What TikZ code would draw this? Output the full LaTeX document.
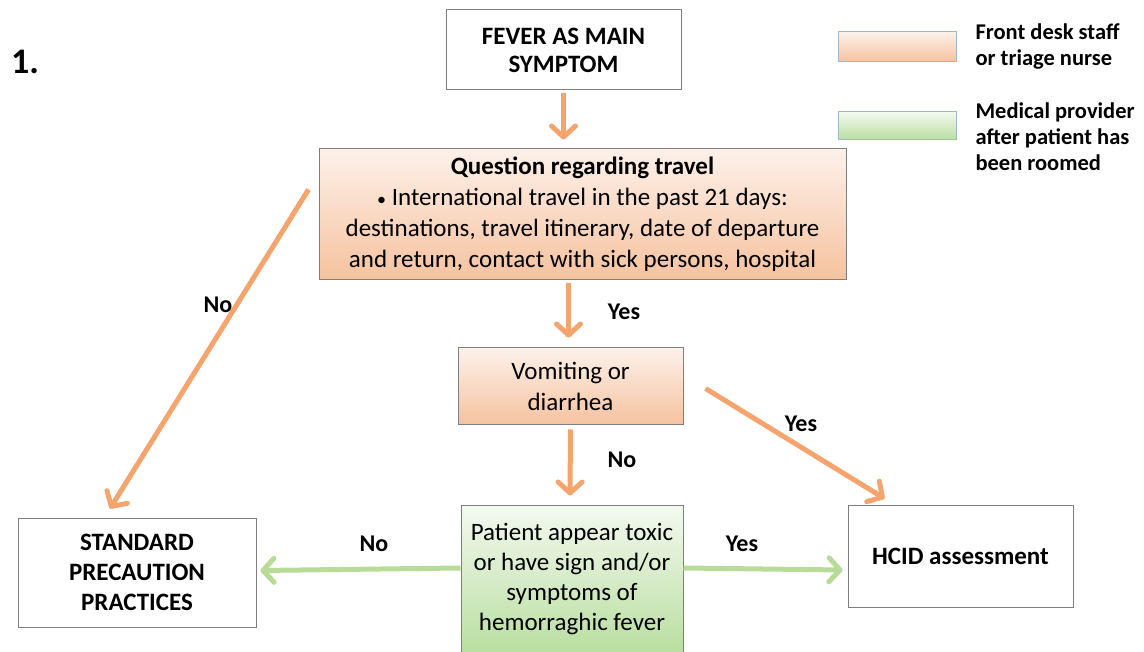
\documentclass[tikz,border=0pt]{standalone}
\usepackage{fontspec}
\setmainfont{Carlito}
\usetikzlibrary{arrows.meta,calc}
\definecolor{flowor}{HTML}{F4A46C}
\definecolor{flowgr}{HTML}{B8DC98}
\definecolor{boxline}{HTML}{7F7F7F}
\definecolor{ortop}{HTML}{FDF1EA}
\definecolor{orbot}{HTML}{F6C29E}
\definecolor{grtop}{HTML}{F3F9EF}
\definecolor{grbot}{HTML}{B9DEA0}
\definecolor{legline}{HTML}{9DB8D2}
\begin{document}
\begin{tikzpicture}[x=1pt,y=-1pt,
  plainbox/.style={draw=boxline,line width=1pt,fill=white,align=center,inner sep=2pt,
    font=\fontsize{25}{28}\selectfont\bfseries},
  orbox/.style={draw=boxline,line width=1pt,top color=ortop,bottom color=orbot,
    align=center,inner sep=2pt,font=\fontsize{25}{31}\selectfont},
  grbox/.style={draw=boxline,line width=1pt,top color=grtop,bottom color=grbot,
    align=center,inner sep=2pt,font=\fontsize{25}{30}\selectfont},
  tip/.style={-{Straight Barb[length=11pt,width=24pt,line width=5pt,round]}},
  oarrow/.style={draw=flowor,line width=5pt,tip},
  garrow/.style={draw=flowgr,line width=5pt,tip},
  lbl/.style={font=\fontsize{24}{28}\selectfont\bfseries},
  legtext/.style={anchor=west,align=left,font=\fontsize{22.5}{26}\selectfont\bfseries},
]
\useasboundingbox (0,0) rectangle (1144,652);

% step number
\node[font=\fontsize{36}{40}\selectfont\bfseries] (num) at (25,62) {1.};

% flow boxes
\node[plainbox,minimum width=235pt,minimum height=80pt] (fever) at (563.5,50) {FEVER AS MAIN\\SYMPTOM};
\node[orbox,minimum width=527pt,minimum height=131pt] (travel) at (582.5,214.5)
  {\textbf{Question regarding travel}\\
   {\fontsize{18}{20}\selectfont\textbullet}\ International travel in the past 21 days:\\
   destinations, travel itinerary, date of departure\\
   and return, contact with sick persons, hospital};
\node[orbox,minimum width=225pt,minimum height=77pt] (vomit) at (570.5,386.5) {Vomiting or\\diarrhea};
\node[grbox,minimum width=222pt,minimum height=148pt] (patient) at (572,579)
  {Patient appear toxic\\or have sign and/or\\symptoms of\\hemorraghic fever};
\node[plainbox,minimum width=238pt,minimum height=109pt,font=\fontsize{25}{30}\selectfont\bfseries] (std) at (137,572.5)
  {STANDARD\\PRECAUTION\\PRACTICES};
\node[plainbox,minimum width=225pt,minimum height=102pt] (hcid) at (960.5,556) {HCID assessment};

% legend
\node[draw=legline,line width=1pt,top color=ortop,bottom color=orbot,minimum width=118pt,minimum height=30pt,inner sep=0pt] (legor) at (897,47) {};
\node[draw=legline,line width=1pt,top color=grtop,bottom color=grbot,minimum width=118pt,minimum height=28pt,inner sep=0pt] (leggr) at (897,126) {};
\node[legtext] (legortext) at (972,47) {Front desk staff\\or triage nurse};
\node[legtext] (leggrtext) at (972,137) {Medical provider\\after patient has\\been roomed};

% connectors
\draw[oarrow] ($(fever.south)+(0,3)$) -- ($(travel.north -| fever.south)+(0,-9)$);
\draw[oarrow] ($(travel.south)+(-14,3)$) -- ($(vomit.north)+(-2,-10)$);
\draw[oarrow] ($(vomit.south)+(0,4)$) -- ($(patient.north)+(-2,-9)$);
\draw[oarrow] ($(vomit.east)+(22,2)$) -- ($(hcid.north west)+(37,-6)$);
\draw[oarrow] ($(travel.west)+(-10,-25)$) -- ($(std.north)+(-27,-9)$);
\draw[garrow] ($(patient.west)+(0,-11)$) -- ($(std.east)+(4,-2)$);
\draw[garrow] ($(patient.east)+(0,-11)$) -- ($(hcid.west)+(-5,14)$);

% connector labels
\node[lbl] (l1) at (218,305) {No};
\node[lbl] (l2) at (624,312) {Yes};
\node[lbl] (l3) at (622,460) {No};
\node[lbl] (l4) at (801,424) {Yes};
\node[lbl] (l5) at (374,544) {No};
\node[lbl] (l6) at (742,544) {Yes};
\end{tikzpicture}
\end{document}
